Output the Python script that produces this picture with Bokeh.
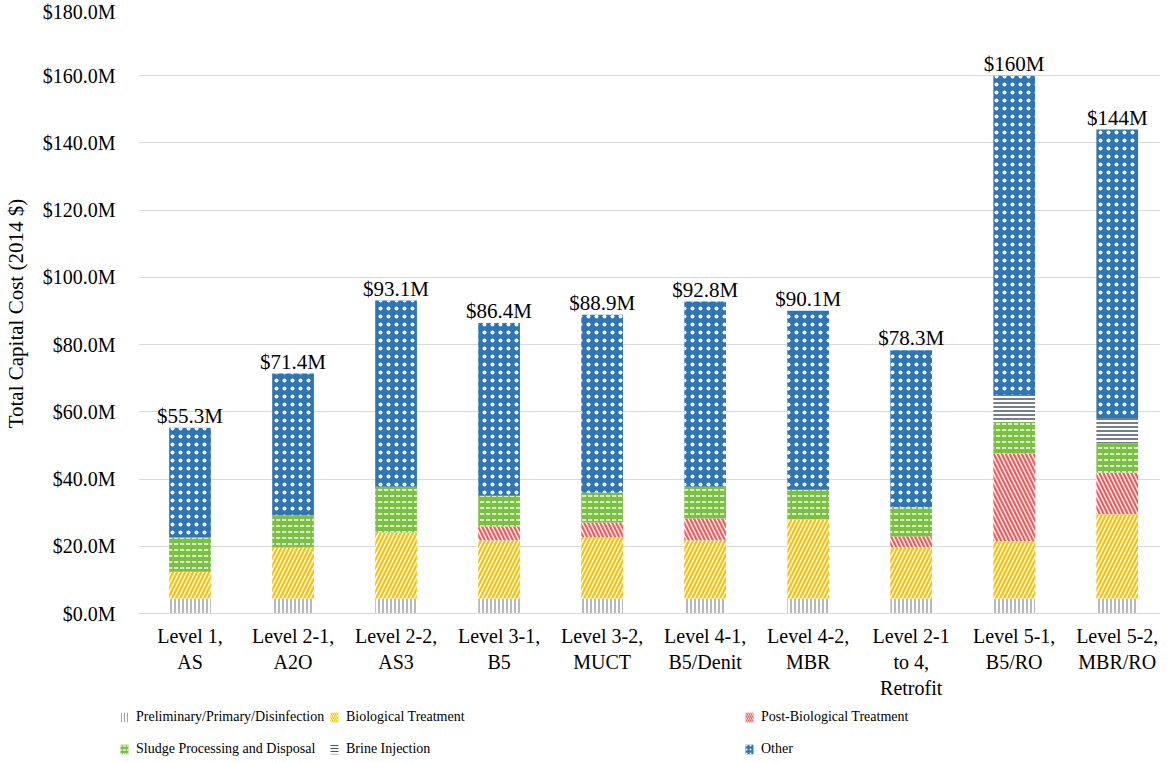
from bokeh.plotting import figure
from bokeh.models import (Range1d, FixedTicker, Legend, LegendItem, ColumnDataSource)
from bokeh.core.properties import value
from bokeh.embed import file_html
from bokeh.resources import INLINE

# ---------------- data ----------------
categories = ["Level 1,\nAS", "Level 2-1,\nA2O", "Level 2-2,\nAS3", "Level 3-1,\nB5",
              "Level 3-2,\nMUCT", "Level 4-1,\nB5/Denit", "Level 4-2,\nMBR",
              "Level 2-1\nto 4,\nRetrofit", "Level 5-1,\nB5/RO", "Level 5-2,\nMBR/RO"]
series_names = ["Preliminary/Primary/Disinfection", "Biological Treatment",
                "Post-Biological Treatment", "Sludge Processing and Disposal",
                "Brine Injection", "Other"]
prelim = [4.5, 4.5, 4.5, 4.5, 4.5, 4.5, 4.5, 4.5, 4.5, 4.5]
bio = [7.9, 15.1, 19.6, 17.2, 18.1, 17.2, 23.5, 15.1, 17.0, 25.0]
post_bio = [0.0, 0.0, 0.0, 4.2, 4.5, 6.6, 0.0, 3.3, 26.1, 12.4]
sludge = [10.2, 9.6, 13.6, 9.1, 8.8, 9.4, 8.8, 8.8, 9.4, 8.7]
brine = [0.0, 0.0, 0.0, 0.0, 0.0, 0.0, 0.0, 0.0, 8.0, 7.6]
other = [32.7, 42.2, 55.4, 51.4, 53.0, 55.1, 53.3, 46.6, 95.0, 85.8]
totals = [55.3, 71.4, 93.1, 86.4, 88.9, 92.8, 90.1, 78.3, 160.0, 144.0]
total_labels = ["$55.3M", "$71.4M", "$93.1M", "$86.4M", "$88.9M", "$92.8M",
                "$90.1M", "$78.3M", "$160M", "$144M"]
y_ticks = [0, 20, 40, 60, 80, 100, 120, 140, 160, 180]
y_tick_labels = ["$0.0M", "$20.0M", "$40.0M", "$60.0M", "$80.0M", "$100.0M",
                 "$120.0M", "$140.0M", "$160.0M", "$180.0M"]

x = list(range(len(categories)))
keys = ["prelim", "bio", "post", "sludge", "brine", "other"]
src = ColumnDataSource(dict(x=x, prelim=prelim, bio=bio, post=post_bio, sludge=sludge,
                            brine=brine, other=other, total=totals, label=total_labels))

FONT = "Liberation Serif"

fill_colors = ["white", "white", "white", "#7ac143", "white", "#2e75b6"]
hatch_patterns = ["vertical_line", "right_diagonal_line", "left_diagonal_line",
                  "horizontal_dash", "horizontal_line", "dot"]
hatch_colors = ["#a6a6a6", "#ffc000", "#ff5757", "white", "#44546a", "white"]
hatch_scales = [4, 8, 8, 6, 4, 8]
hatch_weights = [1.6, 2.2, 2.2, 1.4, 1.5, 0.8]

p = figure(width=1160, height=702, output_backend="svg", toolbar_location=None,
           x_range=Range1d(-0.5, 9.42), y_range=Range1d(0, 180),
           min_border_left=131, min_border_right=0, min_border_top=8,
           min_border_bottom=87)
p.outline_line_color = None
p.background_fill_color = "white"

renderers = p.vbar_stack(keys, x="x", width=0.405, source=src,
                         fill_color=fill_colors, line_color=None,
                         hatch_pattern=hatch_patterns, hatch_color=hatch_colors,
                         hatch_scale=hatch_scales, hatch_weight=hatch_weights)

p.text(x="x", y="total", text="label", source=src, text_align="center",
       text_baseline="alphabetic", y_offset=-12, text_font=value(FONT),
       text_font_size="21px", text_color="#000000")

# axes
p.xaxis.ticker = FixedTicker(ticks=x)
p.xaxis.major_label_overrides = {i: c for i, c in enumerate(categories)}
p.xaxis.major_tick_line_color = None
p.xaxis.minor_tick_line_color = None
p.xaxis.axis_line_color = "#d9d9d9"
p.xaxis.major_label_text_font = FONT
p.xaxis.major_label_text_font_size = "20px"
p.xaxis.major_label_text_color = "#000000"
p.xaxis.major_label_standoff = 5

p.yaxis.ticker = FixedTicker(ticks=y_ticks)
p.yaxis.major_label_overrides = {t: l for t, l in zip(y_ticks, y_tick_labels)}
p.yaxis.major_tick_line_color = None
p.yaxis.minor_tick_line_color = None
p.yaxis.axis_line_color = None
p.yaxis.major_label_text_font = FONT
p.yaxis.major_label_text_font_size = "20px"
p.yaxis.major_label_text_color = "#000000"
p.yaxis.major_label_standoff = 17
p.yaxis.axis_label = "Total Capital Cost (2014  $)"
p.yaxis.axis_label_text_font = FONT
p.yaxis.axis_label_text_font_size = "21px"
p.yaxis.axis_label_text_font_style = "normal"
p.yaxis.axis_label_text_color = "#000000"
p.yaxis.axis_label_standoff = 12

p.xgrid.grid_line_color = None
p.ygrid.grid_line_color = "#d9d9d9"
p.ygrid.grid_line_width = 1

# ---------------- legend strip (separate root below the chart) ----------------
leg_fig = figure(width=1160, height=55, output_backend="svg", toolbar_location=None,
                 x_range=Range1d(0, 1), y_range=Range1d(0, 1),
                 x_axis_location=None, y_axis_location=None,
                 min_border=0, min_border_left=0, min_border_right=0,
                 min_border_top=0, min_border_bottom=0)
leg_fig.grid.visible = False
leg_fig.outline_line_color = None

# swatch renderers (their bars lie outside the visible range; only the legend shows them)
offscreen = ColumnDataSource(dict(x=[-50.0], top=[-50.0]))
leg_scales = [3, 4, 4, 4, 3, 4]
leg_renderers = []
for i in range(len(series_names)):
    r = leg_fig.vbar(x="x", top="top", bottom=-60.0, width=0.1, source=offscreen,
                     fill_color=fill_colors[i], line_color=None,
                     hatch_pattern=hatch_patterns[i], hatch_color=hatch_colors[i],
                     hatch_scale=leg_scales[i], hatch_weight=1.2)
    leg_renderers.append(r)

cols = [[0, 3], [1, 4], [2, 5]]
col_x = [119, 329, 744]
for idxs, lx in zip(cols, col_x):
    items = [LegendItem(label=series_names[i], renderers=[leg_renderers[i]]) for i in idxs]
    leg = Legend(items=items, location=(lx, 0), orientation="vertical",
                 glyph_width=10, glyph_height=12, label_height=14, label_standoff=7,
                 spacing=16, padding=0, margin=0, border_line_color=None,
                 background_fill_alpha=0, label_text_font=FONT,
                 label_text_font_size="14px", label_text_color="#000000")
    leg_fig.add_layout(leg, "center")

open("out.html", "w").write(file_html([p, leg_fig], INLINE))
